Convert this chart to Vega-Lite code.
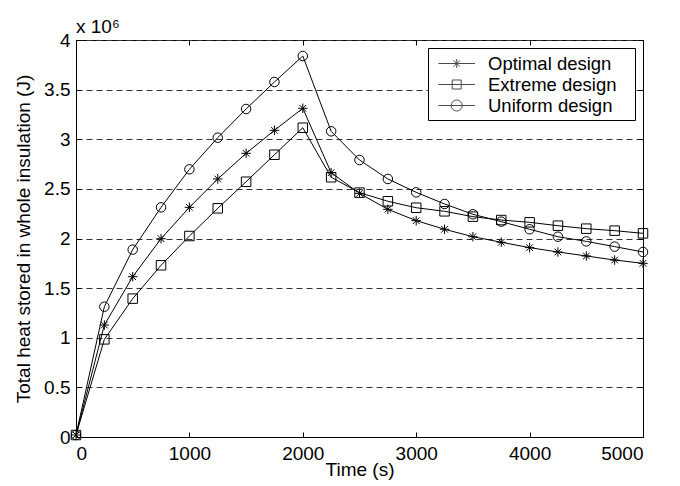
{
  "$schema": "https://vega.github.io/schema/vega-lite/v6.json",
  "width": 567,
  "height": 397,
  "autosize": {"type": "none"},
  "padding": {"left": 76, "top": 40, "right": 37, "bottom": 49},
  "background": "white",
  "title": {"text": "x 10⁶", "anchor": "start", "frame": "group", "offset": -6, "fontSize": 19, "fontWeight": "normal", "font": "Liberation Sans", "color": "black"},
  "config": {
    "view": {"stroke": "black", "strokeWidth": 1},
    "axis": {"labelFont": "Liberation Sans", "labelFontSize": 19, "labelColor": "black", "titleFont": "Liberation Sans", "titleFontSize": 19, "titleFontWeight": "normal", "titleColor": "black", "domainColor": "black", "tickColor": "black", "tickSize": -5, "grid": false},
    "legend": {"labelFont": "Liberation Sans", "labelFontSize": 18.5, "labelColor": "black", "symbolStrokeColor": "black", "symbolStrokeWidth": 1, "symbolFillColor": "transparent"}
  },
  "data": {"values": [
    {"time": 0, "design": "Optimal design", "heat": 20000},
    {"time": 250, "design": "Optimal design", "heat": 1128000},
    {"time": 500, "design": "Optimal design", "heat": 1615000},
    {"time": 750, "design": "Optimal design", "heat": 1998000},
    {"time": 1000, "design": "Optimal design", "heat": 2314000},
    {"time": 1250, "design": "Optimal design", "heat": 2600000},
    {"time": 1500, "design": "Optimal design", "heat": 2858000},
    {"time": 1750, "design": "Optimal design", "heat": 3090000},
    {"time": 2000, "design": "Optimal design", "heat": 3312000},
    {"time": 2250, "design": "Optimal design", "heat": 2663000},
    {"time": 2500, "design": "Optimal design", "heat": 2455000},
    {"time": 2750, "design": "Optimal design", "heat": 2294000},
    {"time": 3000, "design": "Optimal design", "heat": 2180000},
    {"time": 3250, "design": "Optimal design", "heat": 2093000},
    {"time": 3500, "design": "Optimal design", "heat": 2018000},
    {"time": 3750, "design": "Optimal design", "heat": 1962000},
    {"time": 4000, "design": "Optimal design", "heat": 1908000},
    {"time": 4250, "design": "Optimal design", "heat": 1864000},
    {"time": 4500, "design": "Optimal design", "heat": 1824000},
    {"time": 4750, "design": "Optimal design", "heat": 1783000},
    {"time": 5000, "design": "Optimal design", "heat": 1750000},
    {"time": 0, "design": "Extreme design", "heat": 20000},
    {"time": 250, "design": "Extreme design", "heat": 984000},
    {"time": 500, "design": "Extreme design", "heat": 1394000},
    {"time": 750, "design": "Extreme design", "heat": 1730000},
    {"time": 1000, "design": "Extreme design", "heat": 2025000},
    {"time": 1250, "design": "Extreme design", "heat": 2304000},
    {"time": 1500, "design": "Extreme design", "heat": 2572000},
    {"time": 1750, "design": "Extreme design", "heat": 2844000},
    {"time": 2000, "design": "Extreme design", "heat": 3116000},
    {"time": 2250, "design": "Extreme design", "heat": 2617000},
    {"time": 2500, "design": "Extreme design", "heat": 2462000},
    {"time": 2750, "design": "Extreme design", "heat": 2375000},
    {"time": 3000, "design": "Extreme design", "heat": 2310000},
    {"time": 3250, "design": "Extreme design", "heat": 2274000},
    {"time": 3500, "design": "Extreme design", "heat": 2220000},
    {"time": 3750, "design": "Extreme design", "heat": 2186000},
    {"time": 4000, "design": "Extreme design", "heat": 2163000},
    {"time": 4250, "design": "Extreme design", "heat": 2129000},
    {"time": 4500, "design": "Extreme design", "heat": 2099000},
    {"time": 4750, "design": "Extreme design", "heat": 2079000},
    {"time": 5000, "design": "Extreme design", "heat": 2052000},
    {"time": 0, "design": "Uniform design", "heat": 20000},
    {"time": 250, "design": "Uniform design", "heat": 1313000},
    {"time": 500, "design": "Uniform design", "heat": 1888000},
    {"time": 750, "design": "Uniform design", "heat": 2314000},
    {"time": 1000, "design": "Uniform design", "heat": 2697000},
    {"time": 1250, "design": "Uniform design", "heat": 3016000},
    {"time": 1500, "design": "Uniform design", "heat": 3305000},
    {"time": 1750, "design": "Uniform design", "heat": 3577000},
    {"time": 2000, "design": "Uniform design", "heat": 3839000},
    {"time": 2250, "design": "Uniform design", "heat": 3080000},
    {"time": 2500, "design": "Uniform design", "heat": 2791000},
    {"time": 2750, "design": "Uniform design", "heat": 2600000},
    {"time": 3000, "design": "Uniform design", "heat": 2465000},
    {"time": 3250, "design": "Uniform design", "heat": 2348000},
    {"time": 3500, "design": "Uniform design", "heat": 2244000},
    {"time": 3750, "design": "Uniform design", "heat": 2170000},
    {"time": 4000, "design": "Uniform design", "heat": 2093000},
    {"time": 4250, "design": "Uniform design", "heat": 2018000},
    {"time": 4500, "design": "Uniform design", "heat": 1971000},
    {"time": 4750, "design": "Uniform design", "heat": 1918000},
    {"time": 5000, "design": "Uniform design", "heat": 1864000}
  ]},
  "layer": [
    {
      "mark": {"type": "line", "color": "black", "strokeWidth": 1},
      "encoding": {
        "x": {"field": "time", "type": "quantitative", "scale": {"domain": [0, 5000], "nice": false}, "axis": {"title": "Time (s)", "format": "d", "values": [0, 1000, 2000, 3000, 4000, 5000], "labelPadding": 12, "titlePadding": -3}},
        "y": {"field": "heat", "type": "quantitative", "scale": {"domain": [0, 4000000], "nice": false}, "axis": {"title": "Total heat stored in whole insulation (J)", "values": [0, 500000, 1000000, 1500000, 2000000, 2500000, 3000000, 3500000, 4000000], "labelExpr": "format(datum.value / 1000000, '~g')", "labelPadding": 11, "titlePadding": 10, "grid": true, "gridDash": [6, 4], "gridColor": "#333333", "gridWidth": 1}},
        "detail": {"field": "design", "type": "nominal"}
      }
    },
    {
      "mark": {"type": "point", "filled": false, "color": "black", "strokeWidth": 1, "size": 90, "opacity": 1},
      "encoding": {
        "x": {"field": "time", "type": "quantitative", "axis": {"orient": "top", "labels": false, "title": null, "domain": false, "values": [0, 1000, 2000, 3000, 4000, 5000]}},
        "y": {"field": "heat", "type": "quantitative", "axis": {"orient": "right", "labels": false, "title": null, "domain": false, "grid": false, "values": [0, 500000, 1000000, 1500000, 2000000, 2500000, 3000000, 3500000, 4000000]}},
        "shape": {
          "field": "design",
          "type": "nominal",
          "scale": {"domain": ["Optimal design", "Extreme design", "Uniform design"], "range": ["M-1,0H1M0,-1V1M-0.7,-0.7L0.7,0.7M-0.7,0.7L0.7,-0.7", "square", "circle"]},
          "legend": null
        }
      }
    },
    {
      "transform": [{"filter": "false"}],
      "mark": {"type": "point", "filled": false, "color": "black", "strokeWidth": 1},
      "encoding": {
        "shape": {
          "field": "design",
          "type": "nominal",
          "scale": {"domain": ["Optimal design", "Extreme design", "Uniform design"], "range": [
            "M-0.51,0H3.15M0.87,0H1.77M1.32,-0.45V0.45M1.0,-0.32L1.64,0.32M1.0,0.32L1.64,-0.32",
            "M-0.51,0H3.15M0.87,-0.45H1.77V0.45H0.87Z",
            "M-0.51,0H3.15M1.87,0A0.55,0.55 0 1 1 0.77,0A0.55,0.55 0 1 1 1.87,0"
          ]},
          "legend": {
            "title": "I",
            "titleOrient": "right",
            "titleColor": "white",
            "titleFontSize": 10,
            "titlePadding": 10,
            "orient": "top-right",
            "offset": 8,
            "padding": 5,
            "strokeColor": "black",
            "fillColor": "white",
            "symbolSize": 400,
            "rowPadding": 1,
            "labelOffset": 34
          }
        }
      }
    }
  ],
  "resolve": {"axis": {"x": "independent", "y": "independent"}, "scale": {"shape": "independent"}}
}
